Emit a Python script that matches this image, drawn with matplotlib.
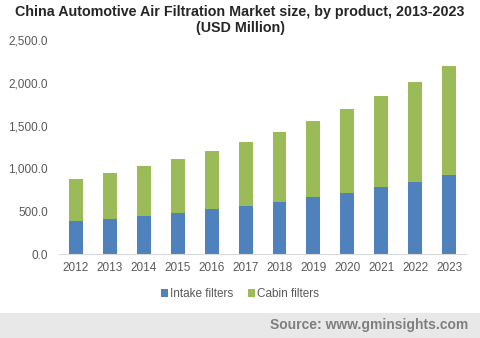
import numpy as np
import matplotlib
matplotlib.use('Agg')
from matplotlib import pyplot as plt
from matplotlib.patches import Rectangle

plt.rcParams['font.family'] = ['Liberation Sans', 'DejaVu Sans']

years = ['2012', '2013', '2014', '2015', '2016', '2017', '2018', '2019', '2020', '2021', '2022', '2023']
intake = [385, 409, 444, 479, 526, 561, 607, 666, 712, 783, 841, 923]
cabin = [491, 537, 584, 631, 677, 747, 818, 887, 981, 1062, 1168, 1273]
yticks = [0, 500, 1000, 1500, 2000, 2500]

fig = plt.figure(figsize=(4.8, 3.38), dpi=100)
ax = fig.add_axes([0.123, 0.2485, 0.848, 0.6332])

x = np.arange(len(years))
ax.bar(x, intake, width=0.41, color='#4f81bd', label='Intake filters')
ax.bar(x, cabin, width=0.41, bottom=intake, color='#9bbb59', label='Cabin filters')

ax.set_xlim(-0.5, len(years) - 0.5)
ax.set_ylim(0, 2500)
ax.set_xticks(x)
ax.set_xticklabels(years)
ax.set_yticks(yticks)
ax.set_yticklabels(['{:,.1f}'.format(v) for v in yticks])
ax.tick_params(axis='both', length=0, labelsize=8.5, labelcolor='#595959')
ax.tick_params(axis='x', pad=6)
ax.tick_params(axis='y', pad=8)
for s in ['top', 'right', 'left']:
    ax.spines[s].set_visible(False)
ax.spines['bottom'].set_color('#d9d9d9')

fig.text(0.5, 0.985, 'China Automotive Air Filtration Market size, by product, 2013-2023\n(USD Million)',
         ha='center', va='top', fontsize=10.3, fontweight='bold', color='#262626', linespacing=1.15)

leg = fig.legend(loc='center', bbox_to_anchor=(0.5, 0.13), ncol=2, frameon=False,
                 fontsize=8.5, handlelength=0.6, handleheight=0.6, handletextpad=0.2,
                 columnspacing=1.2)
for t in leg.get_texts():
    t.set_color('#595959')

fig.patches.append(Rectangle((0, 0), 1, 25 / 338, transform=fig.transFigure,
                             facecolor='#e8e8e8', edgecolor='none', zorder=0))
fig.text(0.975, 12.5 / 338, 'Source: www.gminsights.com', ha='right', va='center',
         fontsize=10, fontweight='bold', color='#7f7f7f')

fig.savefig('out.png', dpi=100)
